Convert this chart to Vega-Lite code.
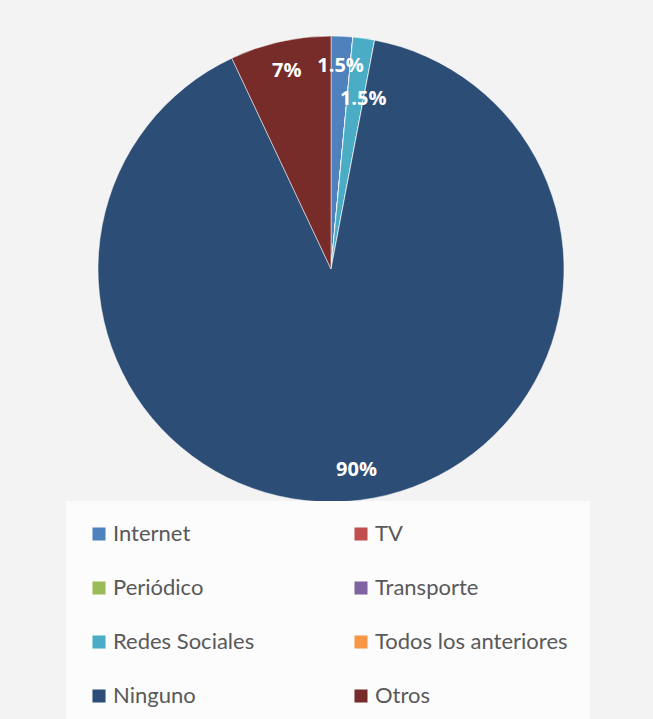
{
  "$schema": "https://vega.github.io/schema/vega-lite/v6.json",
  "width": 642,
  "height": 518,
  "padding": {"left": 10, "top": 10, "right": 1, "bottom": 191},
  "background": "#f3f3f3",
  "config": {"view": {"stroke": null}},
  "data": {
    "values": [
      {"idx": 1, "categoria": "Internet", "pct": 0.015},
      {"idx": 2, "categoria": "TV", "pct": 0},
      {"idx": 3, "categoria": "Periódico", "pct": 0},
      {"idx": 4, "categoria": "Transporte", "pct": 0},
      {"idx": 5, "categoria": "Redes Sociales", "pct": 0.015},
      {"idx": 6, "categoria": "Todos los anteriores", "pct": 0},
      {"idx": 7, "categoria": "Ninguno", "pct": 0.90},
      {"idx": 8, "categoria": "Otros", "pct": 0.07}
    ]
  },
  "encoding": {
    "theta": {"field": "pct", "type": "quantitative", "stack": true},
    "order": {"field": "idx", "type": "quantitative"},
    "color": {
      "field": "categoria",
      "type": "nominal",
      "sort": ["Internet", "TV", "Periódico", "Transporte", "Redes Sociales", "Todos los anteriores", "Ninguno", "Otros"],
      "scale": {
        "domain": ["Internet", "TV", "Periódico", "Transporte", "Redes Sociales", "Todos los anteriores", "Ninguno", "Otros"],
        "range": ["#4f81bd", "#c0504d", "#9bbb59", "#8064a2", "#4bacc6", "#f79646", "#2c4d75", "#772c2a"]
      },
      "legend": {
        "title": null,
        "orient": "none",
        "legendX": 56,
        "legendY": 491,
        "columns": 2,
        "direction": "horizontal",
        "columnPadding": 95,
        "rowPadding": 32,
        "padding": 22,
        "fillColor": "#fcfcfc",
        "symbolType": "square",
        "symbolSize": 170,
        "symbolStrokeWidth": 0,
        "symbolOffset": 0,
        "labelFont": "Lato",
        "labelFontSize": 22,
        "labelColor": "#595959",
        "labelOffset": 3,
        "labelLimit": 400
      }
    }
  },
  "layer": [
    {"mark": {"type": "arc", "outerRadius": 233, "stroke": "#ffffff", "strokeWidth": 0.5}},
    {
      "mark": {"type": "text", "radius": 203, "font": "Open Sans", "fontWeight": "bold", "fontSize": 20, "fill": "#ffffff"},
      "encoding": {
        "text": {"condition": {"test": "datum.pct == 0 || datum.categoria == 'Redes Sociales'", "value": ""}, "field": "pct", "type": "quantitative", "format": ".1~%"},
        "color": {"value": "#ffffff"}
      }
    },
    {
      "mark": {"type": "text", "radius": 172, "font": "Open Sans", "fontWeight": "bold", "fontSize": 20, "fill": "#ffffff", "dx": 8},
      "encoding": {
        "text": {"condition": {"test": "datum.categoria != 'Redes Sociales'", "value": ""}, "field": "pct", "type": "quantitative", "format": ".1~%"},
        "color": {"value": "#ffffff"}
      }
    }
  ]
}
